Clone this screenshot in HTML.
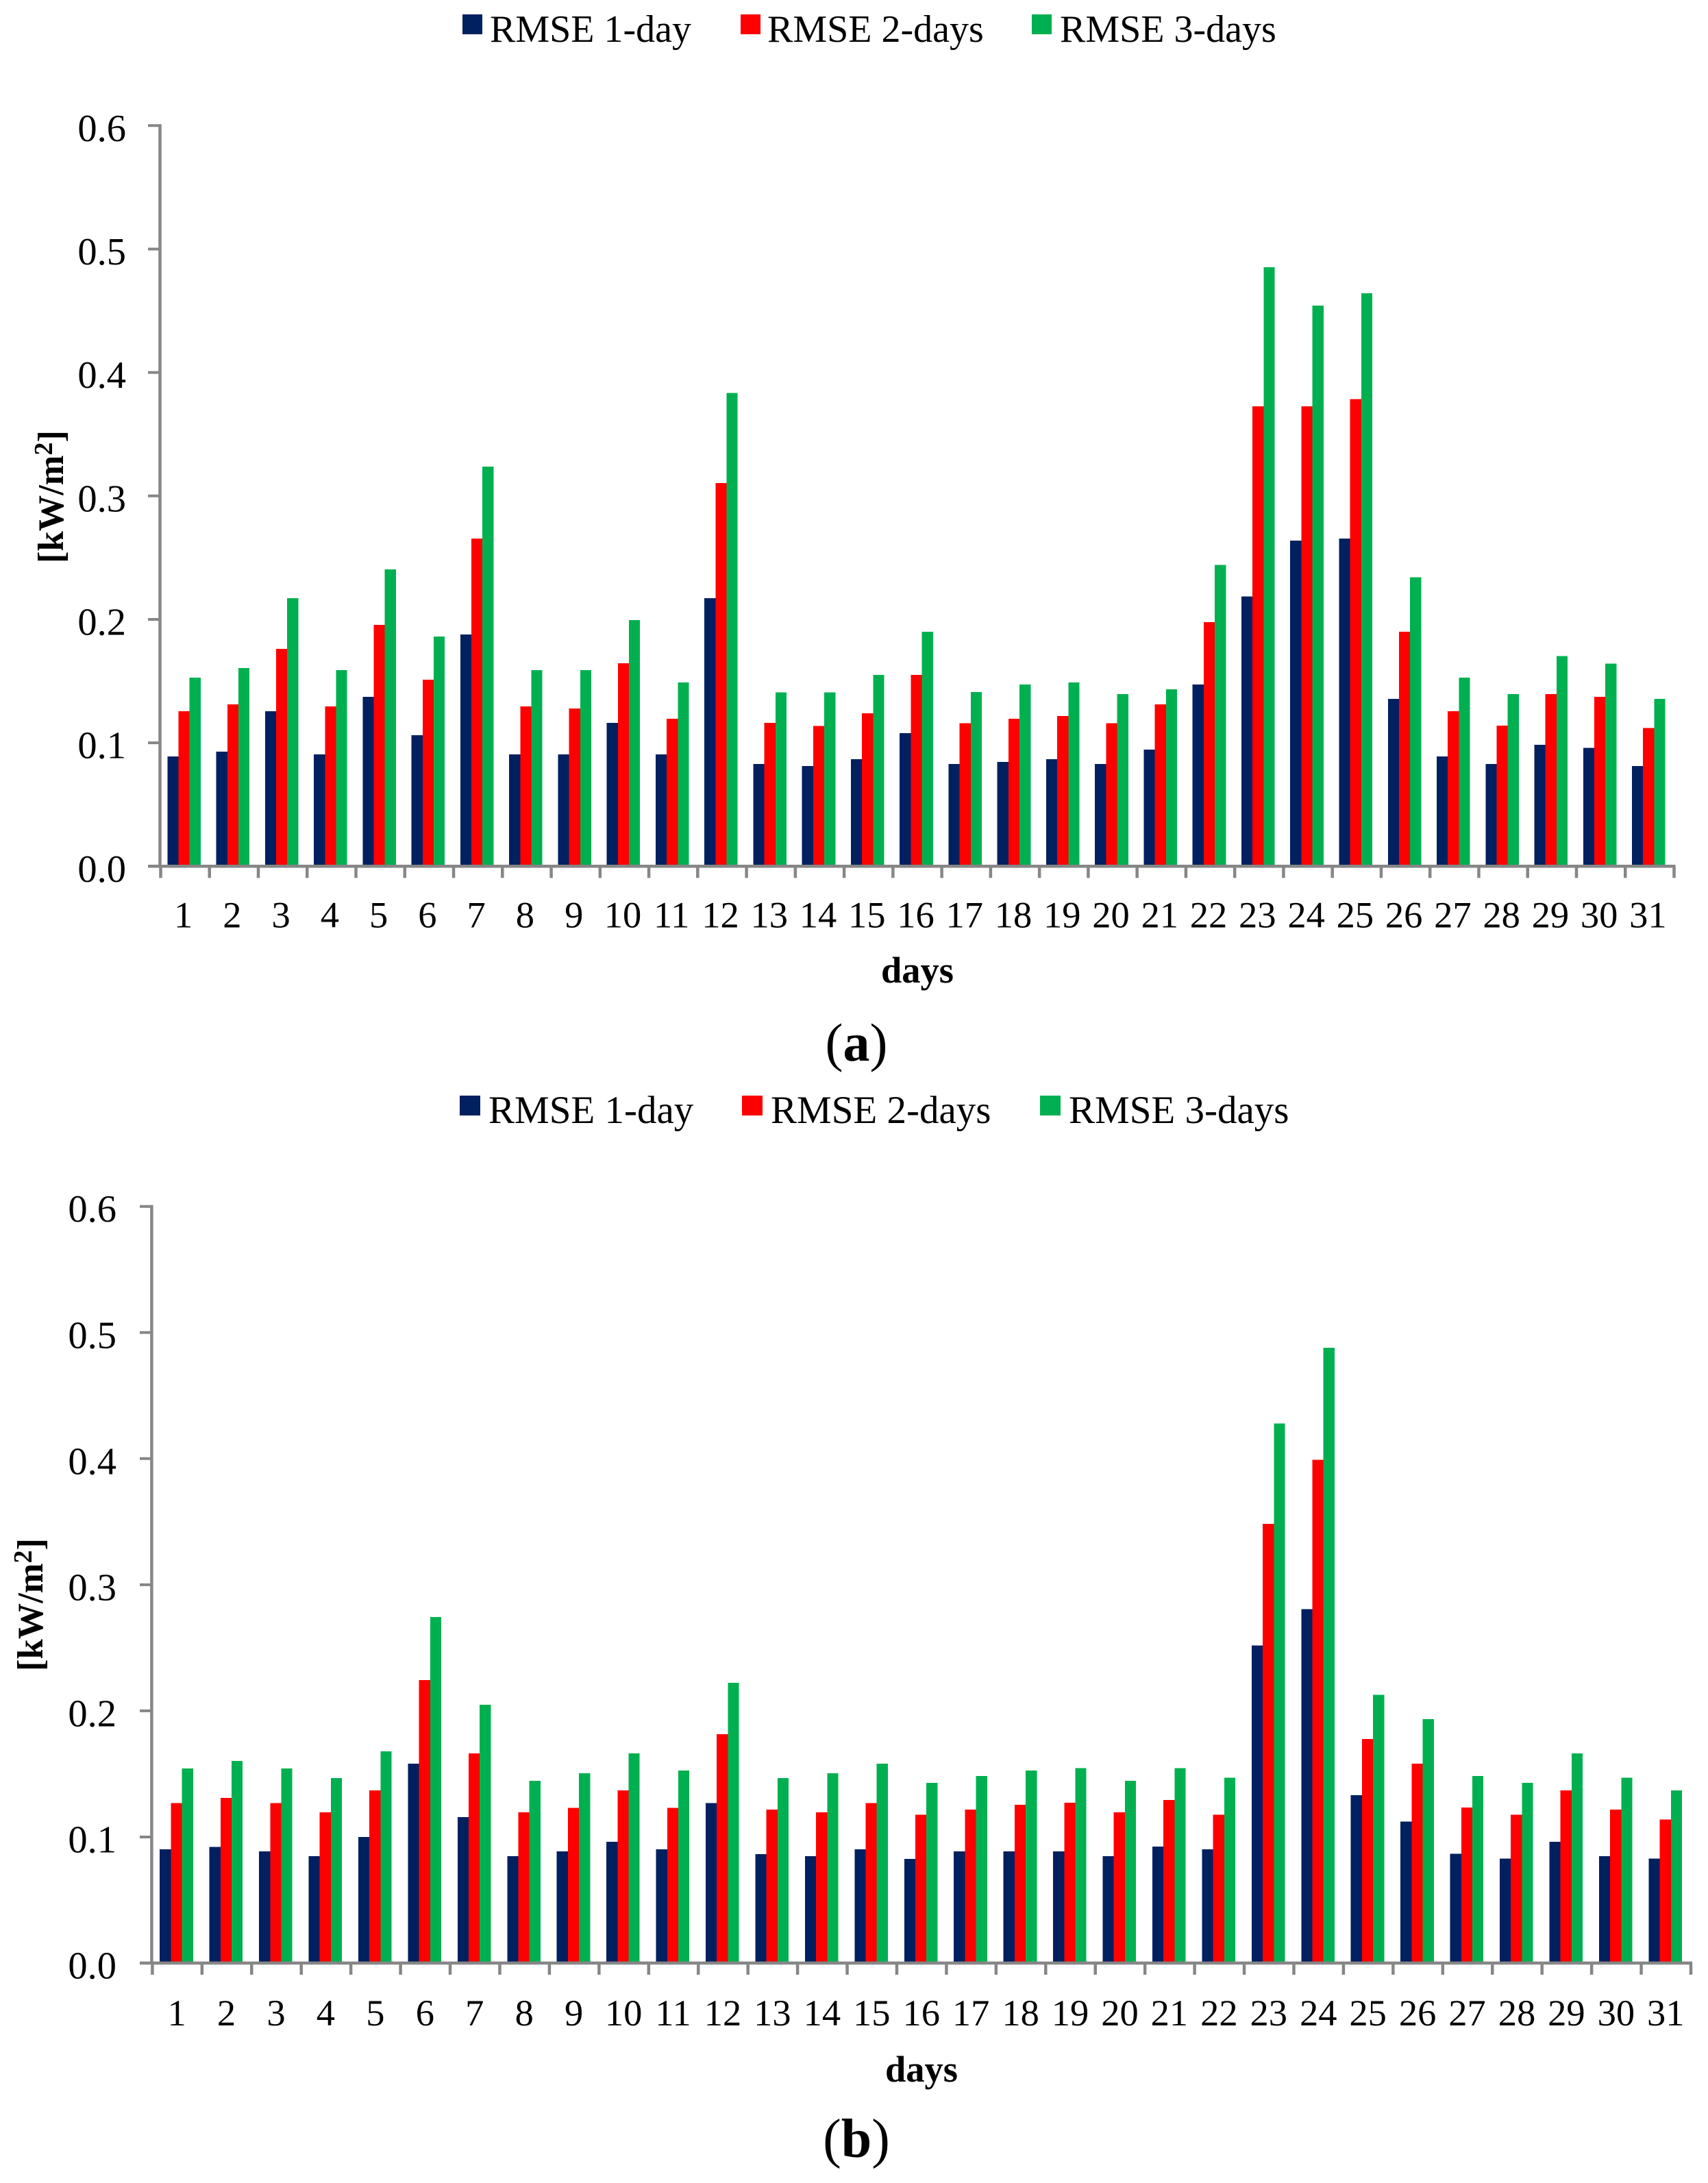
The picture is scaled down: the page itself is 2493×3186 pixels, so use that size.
<!DOCTYPE html>
<html lang="en">
<head>
<meta charset="utf-8">
<title>RMSE by day</title>
<style>
html,body{margin:0;padding:0;background:#fff;width:2493px;height:3186px;overflow:hidden}
svg{display:block}
text{font-family:"Liberation Serif","Times New Roman",serif;fill:#000}
</style>
</head>
<body>
<svg id="figure" xmlns="http://www.w3.org/2000/svg" width="2493" height="3186" viewBox="0 0 2493 3186">
  <g>
    <rect x="675" y="21" width="29" height="29" fill="#002060"/>
    <text x="715" y="61" font-size="56">RMSE 1-day</text>
    <rect x="1081" y="21" width="29" height="29" fill="#FF0000"/>
    <text x="1120" y="61" font-size="56">RMSE 2-days</text>
    <rect x="1506" y="21" width="29" height="29" fill="#00B050"/>
    <text x="1547" y="61" font-size="56">RMSE 3-days</text>
  </g>
  <text transform="translate(92,725) rotate(-90)" text-anchor="middle" font-size="52.5" font-weight="bold">[kW/m<tspan font-size="38" dy="-16">2</tspan><tspan dy="16">]</tspan></text>
  <text x="1339" y="1434" text-anchor="middle" font-size="54.5" font-weight="bold">days</text>
  <text x="1250" y="1548" text-anchor="middle" font-size="78">(<tspan font-weight="bold">a</tspan>)</text>

  <g>
    <rect x="671" y="1599" width="30" height="29" fill="#002060"/>
    <text x="713" y="1639" font-size="57">RMSE 1-day</text>
    <rect x="1083" y="1599" width="30" height="29" fill="#FF0000"/>
    <text x="1125" y="1639" font-size="57">RMSE 2-days</text>
    <rect x="1518" y="1599" width="30" height="29" fill="#00B050"/>
    <text x="1560" y="1639" font-size="57">RMSE 3-days</text>
  </g>
  <text transform="translate(62,2342) rotate(-90)" text-anchor="middle" font-size="52.5" font-weight="bold">[kW/m<tspan font-size="38" dy="-16">2</tspan><tspan dy="16">]</tspan></text>
  <text x="1345" y="3038" text-anchor="middle" font-size="54.5" font-weight="bold">days</text>
  <text x="1250" y="3148" text-anchor="middle" font-size="80">(<tspan font-weight="bold">b</tspan>)</text>
</svg>
<script>
const categories = ["1","2","3","4","5","6","7","8","9","10","11","12","13","14","15","16","17","18","19","20","21","22","23","24","25","26","27","28","29","30","31"];
const yTickValues = [0, 0.1, 0.2, 0.3, 0.4, 0.5, 0.6];
const yTickLabels = ["0.0","0.1","0.2","0.3","0.4","0.5","0.6"];
const seriesNames = ["1-day","2-days","3-days"];

const rmse1DayA = [.0890,.0929,.1255,.0905,.1372,.1061,.1877,.0905,.0905,.1162,.0905,.2171,.0828,.0813,.0867,.1078,.0828,.0844,.0867,.0828,.0944,.1472,.2187,.2639,.2655,.1356,.0889,.0828,.0983,.0960,.0812];
const rmse2DaysA = [.1255,.1311,.1760,.1294,.1955,.1512,.2655,.1294,.1279,.1644,.1195,.3103,.1162,.1138,.1239,.1550,.1160,.1195,.1218,.1160,.1311,.1978,.3727,.3727,.3785,.1901,.1256,.1140,.1395,.1372,.1121];
const rmse3DaysA = [.1527,.1605,.2171,.1590,.2404,.1862,.3238,.1590,.1590,.1994,.1488,.3835,.1410,.1410,.1550,.1901,.1411,.1472,.1488,.1395,.1434,.2442,.4852,.4543,.4642,.2342,.1527,.1395,.1704,.1643,.1356];

const rmse1DayB = [.0901,.0922,.0885,.0847,.0999,.1580,.1157,.0847,.0885,.0962,.0901,.1270,.0863,.0847,.0901,.0826,.0885,.0885,.0885,.0847,.0923,.0901,.2518,.2805,.1331,.1121,.0866,.0828,.0961,.0847,.0828];
const rmse2DaysB = [.1270,.1310,.1270,.1195,.1369,.2244,.1663,.1195,.1232,.1369,.1232,.1815,.1217,.1195,.1270,.1175,.1217,.1255,.1271,.1194,.1293,.1175,.3484,.3991,.1778,.1580,.1233,.1175,.1370,.1217,.1137];
const rmse3DaysB = [.1543,.1602,.1543,.1466,.1679,.2744,.2048,.1444,.1505,.1663,.1527,.2222,.1466,.1505,.1580,.1430,.1484,.1526,.1545,.1446,.1545,.1469,.4278,.4880,.2126,.1934,.1484,.1430,.1663,.1469,.1370];

const SVGNS = "http://www.w3.org/2000/svg";
const figure = document.getElementById("figure");
const AXIS = "#868686";
const COLORS = ["#002060", "#FF0000", "#00B050"];

function shape(parent, tag, geom) {
  const el = document.createElementNS(SVGNS, tag);
  for (const k in geom) el.setAttribute(k, geom[k]);
  parent.appendChild(el);
  return el;
}

function drawChart(id, frame, series) {
  const plot = shape(figure, "g", {});
  
  

  const band = (frame.xEnd - frame.xStart) / categories.length;
  const xScale = i => frame.xStart + band * i;
  const yScale = v => frame.y0 - (frame.y0 - frame.yTop) * v / yTickValues[yTickValues.length - 1];
  const barW = 16.2;

  series.forEach((values, s) => {
    values.forEach((v, i) => {
      const top = yScale(v);
      const bar = shape(plot, "rect", {
        x: xScale(i) + frame.inset + s * barW, y: top, width: barW, height: frame.y0 - top,
        fill: COLORS[s], "shape-rendering": "crispEdges"
      });
      
      
    });
  });

  const yAxis = shape(plot, "line", { x1: frame.xStart - 1, x2: frame.xStart - 1, y1: frame.yTop - 2, y2: frame.y0, stroke: AXIS, "stroke-width": 4.5 });
  
  

  const xAxis = shape(plot, "line", { x1: frame.tickLeft, x2: frame.xEnd + 2, y1: frame.y0, y2: frame.y0, stroke: AXIS, "stroke-width": 4.5 });
  
  

  yTickValues.forEach((v, i) => {
    const y = yScale(v);
    const tick = shape(plot, "line", { x1: frame.tickLeft, x2: frame.xStart, y1: y, y2: y, stroke: AXIS, "stroke-width": 4 });
    
    
    const label = shape(plot, "text", { x: frame.yLabelRight, y: y + 22.5, "text-anchor": "end", "font-size": 56.5 });
    label.textContent = yTickLabels[i];
    
    
  });

  for (let i = 0; i <= categories.length; i++) {
    const x = xScale(i);
    const tick = shape(plot, "line", { x1: x, x2: x, y1: frame.y0, y2: frame.y0 + 17, stroke: AXIS, "stroke-width": 4.5 });
    
    
  }

  categories.forEach((c, i) => {
    const label = shape(plot, "text", { x: xScale(i) + band / 2 + frame.labelShift, y: frame.xLabelBase, "text-anchor": "middle", "font-size": 54.5 });
    label.textContent = c;
    
    
  });
}

drawChart("a",
  { xStart: 234.5, xEnd: 2443.5, y0: 1264.3, yTop: 183.3, tickLeft: 216, yLabelRight: 184, xLabelBase: 1353.5, inset: 9.8, labelShift: -2.5 },
  [rmse1DayA, rmse2DaysA, rmse3DaysA]);
drawChart("b",
  { xStart: 222.4, xEnd: 2468, y0: 2865, yTop: 1760.7, tickLeft: 204, yLabelRight: 170, xLabelBase: 2956, inset: 10.8, labelShift: -0.5 },
  [rmse1DayB, rmse2DaysB, rmse3DaysB]);
</script>
</body>
</html>
